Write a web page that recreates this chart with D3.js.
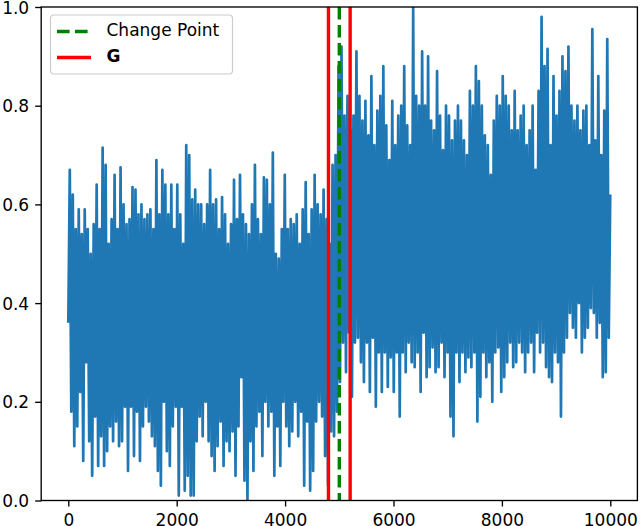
<!DOCTYPE html>
<html>
<head>
<meta charset="utf-8">
<script src="https://cdn.jsdelivr.net/npm/d3@7"></script>
<style>
  html, body { margin: 0; padding: 0; background: #fff; }
  svg { display: block; font-family: "DejaVu Sans", sans-serif; }
</style>
</head>
<body>
<svg id="chart" width="640" height="526"></svg>
<script>
// ---- data (the dense trace is summarised as alternating peaks/troughs) ----
const series = [0.36,
  0.67,0.18, 0.62,0.11, 0.55,0.15, 0.59,0.22, 0.54,0.08, 0.59,0.28, 0.55,0.12, 0.50,0.05, 0.56,0.17, 0.64,0.07,
  0.55,0.13, 0.715,0.07, 0.68,0.10, 0.52,0.15, 0.57,0.12, 0.66,0.16, 0.55,0.11, 0.675,0.12, 0.60,0.19, 0.56,0.06,
  0.57,0.19, 0.635,0.09, 0.63,0.18, 0.58,0.08, 0.60,0.15, 0.57,0.19, 0.58,0.16, 0.59,0.13, 0.55,0.11, 0.69,0.06,
  0.58,0.03, 0.67,0.20, 0.64,0.10, 0.58,0.07, 0.64,0.15, 0.55,0.19, 0.64,0.01, 0.58,0.19, 0.52,0.02, 0.72,0.05,
  0.70,0.01, 0.61,0.01, 0.63,0.12, 0.60,0.17, 0.60,0.13, 0.56,0.20, 0.60,0.12, 0.67,0.09, 0.60,0.06, 0.61,0.11,
  0.55,0.16, 0.615,0.07, 0.58,0.12, 0.52,0.10, 0.56,0.14, 0.65,0.05, 0.57,0.15, 0.66,0.25, 0.58,0.04, 0.56,0.00,
  0.54,0.12, 0.60,0.06, 0.68,0.15, 0.57,0.18, 0.54,0.09, 0.655,0.20, 0.65,0.15, 0.60,0.18, 0.705,0.05, 0.50,0.15,
  0.49,0.07, 0.55,0.20, 0.66,0.15, 0.55,0.11, 0.57,0.14, 0.56,0.20, 0.58,0.13, 0.52,0.18, 0.59,0.03, 0.645,0.16,
  0.54,0.02, 0.59,0.06, 0.66,0.16, 0.60,0.20, 0.58,0.17, 0.63,0.09, 0.57,0.03, 0.52,0.14, 0.68,0.13, 0.70,0.18,
  0.88,0.24, 0.92,0.32, 0.78,0.26, 0.82,0.34, 0.75,0.21, 0.78,0.32, 0.91,0.33, 0.82,0.28, 0.77,0.24, 0.81,0.32,
  0.74,0.22, 0.86,0.33, 0.72,0.19, 0.79,0.30, 0.82,0.22, 0.88,0.30, 0.76,0.23, 0.69,0.29, 0.81,0.22, 0.72,0.30,
  0.78,0.17, 0.80,0.30, 0.88,0.26, 0.76,0.32, 0.72,0.28, 1.00,0.27, 0.82,0.30, 0.80,0.22, 0.91,0.34, 0.80,0.25,
  0.90,0.27, 0.77,0.31, 0.75,0.26, 0.87,0.27, 0.78,0.32, 0.71,0.25, 0.80,0.30, 0.78,0.17, 0.73,0.13, 0.77,0.30,
  0.80,0.24, 0.77,0.30, 0.73,0.26, 0.70,0.29, 0.83,0.27, 0.80,0.30, 0.88,0.16, 0.85,0.21, 0.80,0.30, 0.74,0.25,
  0.72,0.28, 0.66,0.20, 0.77,0.30, 0.82,0.31, 0.80,0.22, 0.86,0.25, 0.82,0.28, 0.80,0.32, 0.75,0.27, 0.83,0.28,
  0.75,0.32, 0.78,0.30, 0.80,0.26, 0.72,0.30, 0.75,0.32, 0.80,0.26, 0.67,0.34, 0.83,0.30, 0.98,0.32, 0.88,0.27,
  0.915,0.25, 0.72,0.24, 0.86,0.30, 0.78,0.28, 0.83,0.17, 0.90,0.30, 0.87,0.33, 0.92,0.38, 0.80,0.35, 0.77,0.33,
  0.80,0.40, 0.75,0.30, 0.79,0.33, 0.80,0.35, 0.72,0.39, 0.955,0.38, 0.73,0.33, 0.86,0.36, 0.70,0.25, 0.79,0.26,
  0.935,0.33, 0.62];
const seriesStart = 0;
const seriesEnd = 9999;
const changePoint = [5000];
const gLines = [4800, 5200];
const xTicks = [0, 2000, 4000, 6000, 8000, 10000];
const yTicks = [0.0, 0.2, 0.4, 0.6, 0.8, 1.0];
const legendItems = ["Change Point", "G"];

// ---- layout ----
const svg = d3.select("#chart");
const L = 41.2, R = 637.4, T = 7, B = 500.5;
const x = d3.scaleLinear().domain([-500, 10500]).range([L, R]);
const y = d3.scaleLinear().domain([0, 1]).range([B, T]);
const idx = d3.scaleLinear().domain([0, series.length - 1]).range([seriesStart, seriesEnd]);

svg.append("defs").append("clipPath").attr("id", "clip")
  .append("rect").attr("x", L).attr("y", T).attr("width", R - L).attr("height", B - T);

const plot = svg.append("g").attr("clip-path", "url(#clip)");

plot.append("path")
  .datum(series)
  .attr("fill", "none")
  .attr("stroke", "#1f77b4")
  .attr("stroke-width", 2.7)
  .attr("stroke-linejoin", "round")
  .attr("d", d3.line().x((d, i) => x(idx(i))).y(d => y(d)));

plot.selectAll("line.cp").data(changePoint).enter().append("line")
  .attr("class", "cp")
  .attr("x1", d => x(d)).attr("x2", d => x(d))
  .attr("y1", T).attr("y2", B)
  .attr("stroke", "#008000").attr("stroke-width", 3.4)
  .attr("stroke-dasharray", "12.6,5.4");

plot.selectAll("line.g").data(gLines).enter().append("line")
  .attr("class", "g")
  .attr("x1", d => x(d)).attr("x2", d => x(d))
  .attr("y1", T).attr("y2", B)
  .attr("stroke", "#ff0000").attr("stroke-width", 3.4);

// ---- axes ----
const fs = 17;
const xAxis = d3.axisBottom(x).tickValues(xTicks).tickSize(6).tickPadding(5).tickFormat(d3.format("d"));
const yAxis = d3.axisLeft(y).tickValues(yTicks).tickSize(6).tickPadding(6).tickFormat(d3.format(".1f"));

const gx = svg.append("g").attr("transform", `translate(0,${B})`).call(xAxis);
const gy = svg.append("g").attr("transform", `translate(${L},0)`).call(yAxis);
[gx, gy].forEach(g => {
  g.select(".domain").remove();
  g.selectAll(".tick line").attr("stroke", "#000").attr("stroke-width", 1.35);
  g.selectAll(".tick text").attr("fill", "#000").attr("font-size", fs)
    .attr("font-family", "DejaVu Sans");
});
gx.selectAll(".tick text").attr("dy", null).attr("y", 0).attr("transform", "translate(0,25)");
gy.selectAll(".tick text").attr("dy", "0.36em");

// frame
svg.append("rect").attr("x", L).attr("y", T).attr("width", R - L).attr("height", B - T)
  .attr("fill", "none").attr("stroke", "#000").attr("stroke-width", 1.35);

// ---- legend ----
const lg = svg.append("g");
lg.append("rect").attr("x", 50.5).attr("y", 15).attr("width", 182).attr("height", 59)
  .attr("rx", 3.5).attr("fill", "#fff").attr("fill-opacity", 0.8)
  .attr("stroke", "#cccccc").attr("stroke-width", 1.2);
const rows = [31.5, 57.5];
lg.append("line").attr("x1", 57).attr("x2", 91).attr("y1", rows[0]).attr("y2", rows[0])
  .attr("stroke", "#008000").attr("stroke-width", 3.4).attr("stroke-dasharray", "12.6,5.4");
lg.append("line").attr("x1", 57).attr("x2", 91).attr("y1", rows[1]).attr("y2", rows[1])
  .attr("stroke", "#ff0000").attr("stroke-width", 3.4);
lg.selectAll("text").data(legendItems).enter().append("text")
  .attr("x", 106.5).attr("y", (d, i) => rows[i] + 4.5)
  .attr("font-size", fs).attr("font-family", "DejaVu Sans")
  .attr("font-weight", (d, i) => i === 1 ? "bold" : "normal")
  .attr("fill", "#000")
  .text(d => d);
</script>
</body>
</html>
